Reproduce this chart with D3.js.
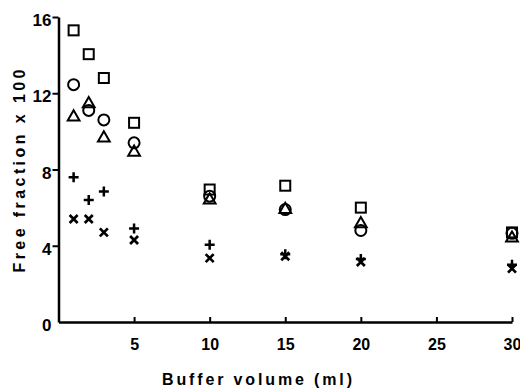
<!DOCTYPE html>
<html>
<head>
<meta charset="utf-8">
<script src="https://cdn.jsdelivr.net/npm/d3@7"></script>
<style>
  body { margin: 0; background: #fff; }
  text { font-family: "Liberation Sans", Arial, sans-serif; font-weight: bold; fill: #000; }
</style>
</head>
<body>
<div class="container"></div>
<script>
// buffer volumes (ml) and free fraction x 100 for each series
var volumes = [1, 2, 3, 5, 10, 15, 20, 30];
var squares = [15.3, 14.05, 12.8, 10.45, 6.95, 7.15, 6.0, 4.7];
var circles = [12.45, 11.1, 10.6, 9.4, 6.6, 5.9, 4.8, 4.65];
var triangles = [10.8, 11.5, 9.7, 8.95, 6.45, 5.95, 5.2, 4.45];
var pluses = [7.6, 6.4, 6.85, 4.9, 4.05, 3.55, 3.3, 3.0];
var crosses = [5.4, 5.4, 4.7, 4.3, 3.35, 3.45, 3.15, 2.8];

var xTicks = [0, 5, 10, 15, 20, 25, 30];
var yTicks = [0, 4, 8, 12, 16];

var width = 520, height = 388;

var x = d3.scaleLinear().domain([0, 30]).range([58.5, 512]);
var y = d3.scaleLinear().domain([0, 16]).range([322, 17]);

var svg = d3.select('.container')
    .append('svg')
    .attr('width', width)
    .attr('height', height);

// axes
var xAxis = d3.axisBottom(x)
    .tickValues(xTicks.slice(1))
    .tickFormat(d3.format('d'))
    .tickSizeInner(-5)
    .tickSizeOuter(0)
    .tickPadding(17);

var gx = svg.append('g')
    .attr('transform', 'translate(0,' + y(0) + ')')
    .call(xAxis);
gx.selectAll('text').attr('font-size', 16);

var yAxis = d3.axisLeft(y)
    .tickValues(yTicks)
    .tickFormat(d3.format('d'))
    .tickSizeInner(6)
    .tickSizeOuter(0)
    .tickPadding(1);

var gy = svg.append('g')
    .attr('transform', 'translate(' + x(0) + ',0)')
    .call(yAxis);
gy.selectAll('text').attr('font-size', 17).attr('dy', '0.5em');
gy.selectAll('.tick').filter(function (d) { return d === 0; })
    .select('line').remove();

svg.selectAll('.domain').attr('stroke-width', 2.5).attr('stroke', '#000');
svg.selectAll('.tick line').attr('stroke-width', 2).attr('stroke', '#000');
svg.selectAll('.tick text').style('font-family', '"Liberation Sans", Arial, sans-serif')
    .style('font-weight', 'bold');

// axis titles
svg.append('text')
    .attr('x', 257)
    .attr('y', 385)
    .attr('text-anchor', 'middle')
    .attr('font-size', 16)
    .attr('textLength', 190)
    .attr('lengthAdjust', 'spacing')
    .text('Buffer  volume (ml)');

svg.append('text')
    .attr('transform', 'translate(25,171) rotate(-90)')
    .attr('text-anchor', 'middle')
    .attr('font-size', 16)
    .attr('textLength', 203)
    .attr('lengthAdjust', 'spacing')
    .text('Free  fraction  x 100');

// markers
function pts(vals) {
    return vals.map(function (v, i) { return { vol: volumes[i], val: v }; });
}

var marks = svg.append('g')
    .attr('fill', 'none')
    .attr('stroke', '#000')
    .attr('stroke-width', 2);

marks.selectAll('.sq').data(pts(squares)).enter()
    .append('rect').attr('class', 'sq')
    .attr('x', function (d) { return x(d.vol) - 5; })
    .attr('y', function (d) { return y(d.val) - 5; })
    .attr('width', 10).attr('height', 10);

marks.selectAll('.ci').data(pts(circles)).enter()
    .append('circle').attr('class', 'ci')
    .attr('cx', function (d) { return x(d.vol); })
    .attr('cy', function (d) { return y(d.val); })
    .attr('r', 5.5);

var tri = d3.symbol().type(d3.symbolTriangle).size(60);
marks.selectAll('.tr').data(pts(triangles)).enter()
    .append('path').attr('class', 'tr')
    .attr('d', tri)
    .attr('transform', function (d) { return 'translate(' + x(d.vol) + ',' + (y(d.val) + 1) + ')'; });

marks.selectAll('.pl').data(pts(pluses)).enter()
    .append('path').attr('class', 'pl')
    .attr('stroke-width', 2.5)
    .attr('d', function (d) {
        var cx = x(d.vol), cy = y(d.val), s = 5;
        return 'M' + (cx - s) + ',' + cy + 'H' + (cx + s) + 'M' + cx + ',' + (cy - s) + 'V' + (cy + s);
    });

marks.selectAll('.cr').data(pts(crosses)).enter()
    .append('path').attr('class', 'cr')
    .attr('stroke-width', 2.7)
    .attr('d', function (d) {
        var cx = x(d.vol), cy = y(d.val), s = 4;
        return 'M' + (cx - s) + ',' + (cy - s) + 'L' + (cx + s) + ',' + (cy + s) +
               'M' + (cx + s) + ',' + (cy - s) + 'L' + (cx - s) + ',' + (cy + s);
    });
</script>
</body>
</html>
